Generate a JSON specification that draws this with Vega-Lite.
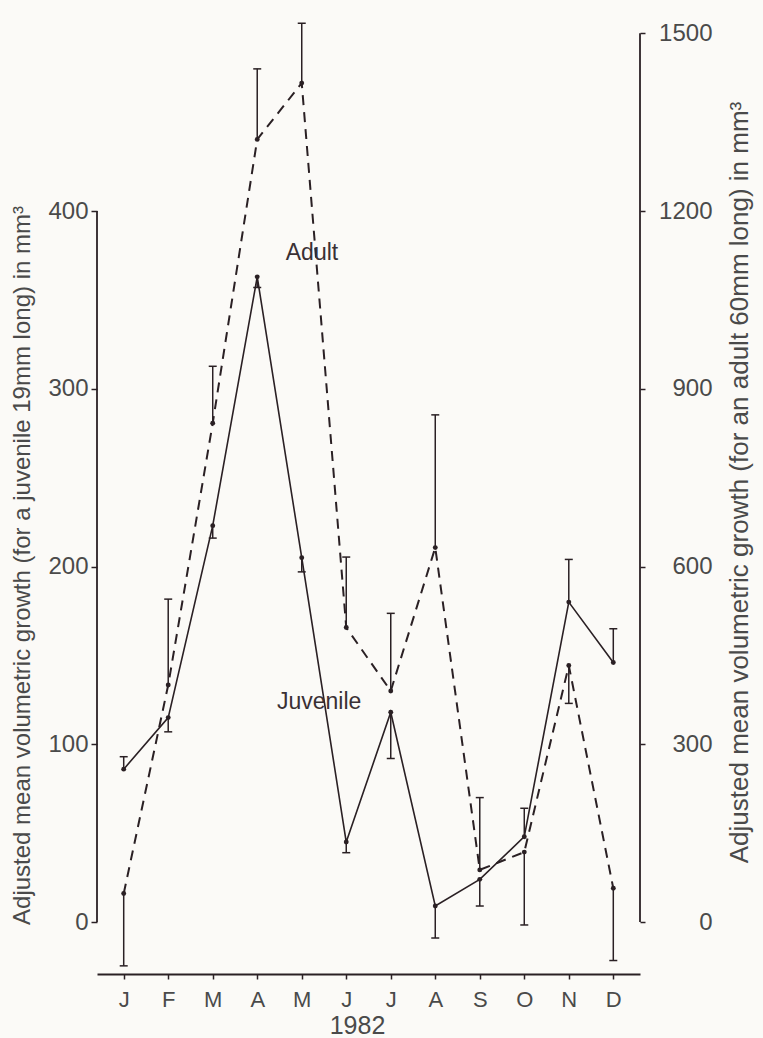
{
  "$schema": "https://vega.github.io/schema/vega-lite/v6.json",
  "width": 543,
  "height": 970,
  "autosize": {"type": "none"},
  "padding": {"left": 97, "top": 4, "right": 123, "bottom": 64},
  "background": "#fbfaf7",
  "config": {
    "view": {"stroke": null},
    "font": "Liberation Sans",
    "axis": {
      "grid": false,
      "labelFont": "Liberation Sans",
      "titleFont": "Liberation Sans",
      "labelColor": "#4a4a4a",
      "titleColor": "#4a4a4a",
      "tickColor": "#2a2024",
      "domainColor": "#2a2024",
      "titleFontWeight": "normal"
    }
  },
  "datasets": {
    "growth": [
      {"m": 1, "juv": 86, "juvEnd": 93, "adu": 48, "aduEnd": -74},
      {"m": 2, "juv": 115, "juvEnd": 107, "adu": 400, "aduEnd": 545},
      {"m": 3, "juv": 223, "juvEnd": 216, "adu": 842, "aduEnd": 938},
      {"m": 4, "juv": 363, "juvEnd": 357, "adu": 1321, "aduEnd": 1440},
      {"m": 5, "juv": 205, "juvEnd": 197, "adu": 1416, "aduEnd": 1517},
      {"m": 6, "juv": 45, "juvEnd": 39, "adu": 497, "aduEnd": 616},
      {"m": 7, "juv": 118, "juvEnd": 92, "adu": 390, "aduEnd": 521},
      {"m": 8, "juv": 9, "juvEnd": -9, "adu": 632, "aduEnd": 856},
      {"m": 9, "juv": 24, "juvEnd": 9, "adu": 88, "aduEnd": 210},
      {"m": 10, "juv": 48, "juvEnd": 64, "adu": 118, "aduEnd": -5},
      {"m": 11, "juv": 180, "juvEnd": 204, "adu": 433, "aduEnd": 369},
      {"m": 12, "juv": 146, "juvEnd": 165, "adu": 57, "aduEnd": -65}
    ]
  },
  "data": {"name": "growth"},
  "resolve": {"scale": {"y": "independent"}, "axis": {"y": "independent"}},
  "layer": [
    {
      "layer": [
        {
          "data": {"values": [{}]},
          "mark": {"type": "rule", "color": "#2a2024", "strokeWidth": 1.8},
          "encoding": {
            "x": {
              "datum": 0.4, "type": "quantitative",
              "scale": {"domain": [0.4, 12.6], "nice": false, "zero": false},
              "axis": {
                "values": [1, 2, 3, 4, 5, 6, 7, 8, 9, 10, 11, 12],
                "labelExpr": "['J','F','M','A','M','J','J','A','S','O','N','D'][datum.value-1]",
                "title": "1982",
                "tickSize": 5, "tickWidth": 1.5, "domainWidth": 1.8,
                "labelFontSize": 22, "labelPadding": 10, "labelFlush": false, "labelOverlap": false,
                "titleFontSize": 25, "titleX": 260, "titleY": 39, "titleAlign": "center", "titleBaseline": "top"
              }
            },
            "y": {
              "datum": 0, "type": "quantitative",
              "scale": {"domain": [-29.25, 516.5], "nice": false, "zero": false},
              "axis": {
                "values": [0, 100, 200, 300, 400],
                "domain": false, "tickSize": 6, "tickWidth": 1.5,
                "labelFontSize": 24, "labelPadding": 3, "labelFlush": false,
                "title": "Adjusted mean volumetric growth (for a juvenile 19mm long) in mm³",
                "titleFontSize": 24, "titleX": -75, "titleY": 561, "titleAngle": 270,
                "titleBaseline": "middle", "titleAlign": "center"
              }
            },
            "y2": {"datum": 400}
          }
        },
        {
          "mark": {"type": "line", "color": "#2a2024", "strokeWidth": 1.6},
          "encoding": {
            "x": {"field": "m", "type": "quantitative", "scale": {"domain": [0.4, 12.6], "nice": false, "zero": false}},
            "y": {"field": "juv", "type": "quantitative", "scale": {"domain": [-29.25, 516.5], "nice": false, "zero": false}}
          }
        },
        {
          "mark": {"type": "rule", "color": "#2a2024", "strokeWidth": 1.5},
          "encoding": {
            "x": {"field": "m", "type": "quantitative", "scale": {"domain": [0.4, 12.6], "nice": false, "zero": false}},
            "y": {"field": "juv", "type": "quantitative", "scale": {"domain": [-29.25, 516.5], "nice": false, "zero": false}},
            "y2": {"field": "juvEnd"}
          }
        },
        {
          "mark": {"type": "tick", "orient": "horizontal", "size": 8, "thickness": 1.5, "color": "#2a2024", "opacity": 1},
          "encoding": {
            "x": {"field": "m", "type": "quantitative", "scale": {"domain": [0.4, 12.6], "nice": false, "zero": false}},
            "y": {"field": "juvEnd", "type": "quantitative", "scale": {"domain": [-29.25, 516.5], "nice": false, "zero": false}}
          }
        },
        {
          "mark": {"type": "circle", "size": 24, "color": "#2a2024", "opacity": 1},
          "encoding": {
            "x": {"field": "m", "type": "quantitative", "scale": {"domain": [0.4, 12.6], "nice": false, "zero": false}},
            "y": {"field": "juv", "type": "quantitative", "scale": {"domain": [-29.25, 516.5], "nice": false, "zero": false}}
          }
        },
        {
          "data": {"values": [{}]},
          "mark": {"type": "text", "text": "Juvenile", "fontSize": 23, "color": "#3a3034", "align": "center", "baseline": "middle"},
          "encoding": {
            "x": {"datum": 5.39, "type": "quantitative", "scale": {"domain": [0.4, 12.6], "nice": false, "zero": false}},
            "y": {"datum": 123.8, "type": "quantitative", "scale": {"domain": [-29.25, 516.5], "nice": false, "zero": false}}
          }
        }
      ]
    },
    {
      "layer": [
        {
          "data": {"values": [{}]},
          "mark": {"type": "rule", "color": "#2a2024", "strokeWidth": 1.8},
          "encoding": {
            "x": {"datum": 12.6, "type": "quantitative", "scale": {"domain": [0.4, 12.6], "nice": false, "zero": false}},
            "y": {
              "datum": 0, "type": "quantitative",
              "scale": {"domain": [-87.75, 1549.5], "nice": false, "zero": false},
              "axis": {
                "orient": "right",
                "values": [0, 300, 600, 900, 1200, 1500],
                "format": "d",
                "domain": false, "tickSize": 5, "tickWidth": 1.5,
                "labelFontSize": 24, "labelAlign": "right", "labelPadding": 67, "labelFlush": false,
                "title": "Adjusted mean volumetric growth (for an adult 60mm long) in mm³",
                "titleFontSize": 26, "titleX": 99, "titleY": 478, "titleAngle": 270,
                "titleBaseline": "middle", "titleAlign": "center"
              }
            },
            "y2": {"datum": 1500}
          }
        },
        {
          "mark": {"type": "line", "color": "#2a2024", "strokeWidth": 2, "strokeDash": [10, 7]},
          "encoding": {
            "x": {"field": "m", "type": "quantitative", "scale": {"domain": [0.4, 12.6], "nice": false, "zero": false}},
            "y": {"field": "adu", "type": "quantitative", "scale": {"domain": [-87.75, 1549.5], "nice": false, "zero": false}}
          }
        },
        {
          "mark": {"type": "rule", "color": "#2a2024", "strokeWidth": 1.5},
          "encoding": {
            "x": {"field": "m", "type": "quantitative", "scale": {"domain": [0.4, 12.6], "nice": false, "zero": false}},
            "y": {"field": "adu", "type": "quantitative", "scale": {"domain": [-87.75, 1549.5], "nice": false, "zero": false}},
            "y2": {"field": "aduEnd"}
          }
        },
        {
          "mark": {"type": "tick", "orient": "horizontal", "size": 8, "thickness": 1.5, "color": "#2a2024", "opacity": 1},
          "encoding": {
            "x": {"field": "m", "type": "quantitative", "scale": {"domain": [0.4, 12.6], "nice": false, "zero": false}},
            "y": {"field": "aduEnd", "type": "quantitative", "scale": {"domain": [-87.75, 1549.5], "nice": false, "zero": false}}
          }
        },
        {
          "mark": {"type": "circle", "size": 24, "color": "#2a2024", "opacity": 1},
          "encoding": {
            "x": {"field": "m", "type": "quantitative", "scale": {"domain": [0.4, 12.6], "nice": false, "zero": false}},
            "y": {"field": "adu", "type": "quantitative", "scale": {"domain": [-87.75, 1549.5], "nice": false, "zero": false}}
          }
        },
        {
          "data": {"values": [{}]},
          "mark": {"type": "text", "text": "Adult", "fontSize": 23, "color": "#3a3034", "align": "center", "baseline": "middle"},
          "encoding": {
            "x": {"datum": 5.23, "type": "quantitative", "scale": {"domain": [0.4, 12.6], "nice": false, "zero": false}},
            "y": {"datum": 1129, "type": "quantitative", "scale": {"domain": [-87.75, 1549.5], "nice": false, "zero": false}}
          }
        }
      ]
    }
  ]
}
